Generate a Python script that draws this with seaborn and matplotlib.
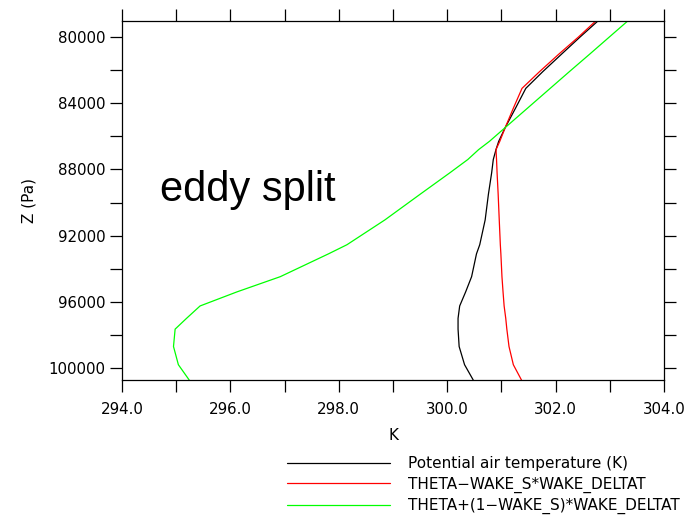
import numpy as np
import pandas as pd
import seaborn as sns
import matplotlib.pyplot as plt
from matplotlib.ticker import MultipleLocator, FormatStrFormatter

# pressure levels (Pa) and the three temperature profiles (K)
pres = [79030, 80000, 81000, 82100, 83100, 84300, 85470, 86300, 86800, 87400, 88200, 89500,
        91050, 92550, 93100, 94480, 95400, 96250, 97000, 97650, 98700, 99800, 100725]
theta = [302.78, 302.45, 302.12, 301.76, 301.45, 301.26, 301.07, 300.95, 300.90, 300.85, 300.82, 300.76,
         300.70, 300.60, 300.54, 300.45, 300.34, 300.23, 300.20, 300.20, 300.22, 300.32, 300.48]
theta_minus = [302.74, 302.42, 302.07, 301.70, 301.38, 301.22, 301.07, 300.97, 300.90, 300.91, 300.92, 300.94,
               300.96, 300.98, 300.99, 301.01, 301.03, 301.05, 301.08, 301.10, 301.14, 301.22, 301.37]
theta_plus = [303.33, 302.99, 302.64, 302.25, 301.90, 301.48, 301.07, 300.78, 300.58, 300.38, 300.05, 299.50,
              298.85, 298.15, 297.81, 296.92, 296.12, 295.44, 295.19, 294.98, 294.95, 295.04, 295.24]

labels = ["Potential air temperature (K)",
          "THETA\u2212WAKE_S*WAKE_DELTAT",
          "THETA+(1\u2212WAKE_S)*WAKE_DELTAT"]
colors = ["black", "red", "#00ff00"]

sns.set_style("ticks")
plt.rcParams['font.family'] = ['DejaVu Sans']
plt.rcParams['text.color'] = 'black'
plt.rcParams['axes.labelcolor'] = 'black'

fig = plt.figure(figsize=(6.94, 5.2), dpi=100)
ax = fig.add_axes([0.1758, 0.2692, 0.7810, 0.6904])

for vals, lab, col in zip([theta, theta_minus, theta_plus], labels, colors):
    df = pd.DataFrame({'K': vals, 'P': pres})
    sns.lineplot(data=df, x='K', y='P', sort=False, estimator=None, color=col,
                 linewidth=0.9, label=lab, ax=ax, legend=False)

ax.set_xlim(294, 304)
ax.set_ylim(100725, 79030)
ax.xaxis.set_major_locator(MultipleLocator(2))
ax.xaxis.set_minor_locator(MultipleLocator(1))
ax.xaxis.set_major_formatter(FormatStrFormatter('%.1f'))
ax.yaxis.set_major_locator(MultipleLocator(4000))
ax.yaxis.set_minor_locator(MultipleLocator(2000))
ax.tick_params(which='both', direction='out', length=8.5, width=0.9,
               top=True, right=True, labelsize=10.8, colors='black')
ax.tick_params(axis='x', which='major', pad=7)
for s in ax.spines.values():
    s.set_linewidth(0.9)
    s.set_color('black')

ax.set_xlabel("K", fontsize=11, labelpad=8)
ax.set_ylabel("Z (Pa)", fontsize=11, labelpad=8.5)

ax.text(0.07, 0.50, "eddy split", transform=ax.transAxes, fontsize=30,
        family='Liberation Sans', color='black', va='baseline', ha='left')

handles, labs = ax.get_legend_handles_labels()
fig.legend(handles, labs, loc='upper left', bbox_to_anchor=(0.4135, 0.123),
           frameon=False, fontsize=11, handlelength=6.74, handletextpad=1.18,
           labelspacing=0.36, borderaxespad=0, borderpad=0)

fig.savefig("out.png", dpi=100)
